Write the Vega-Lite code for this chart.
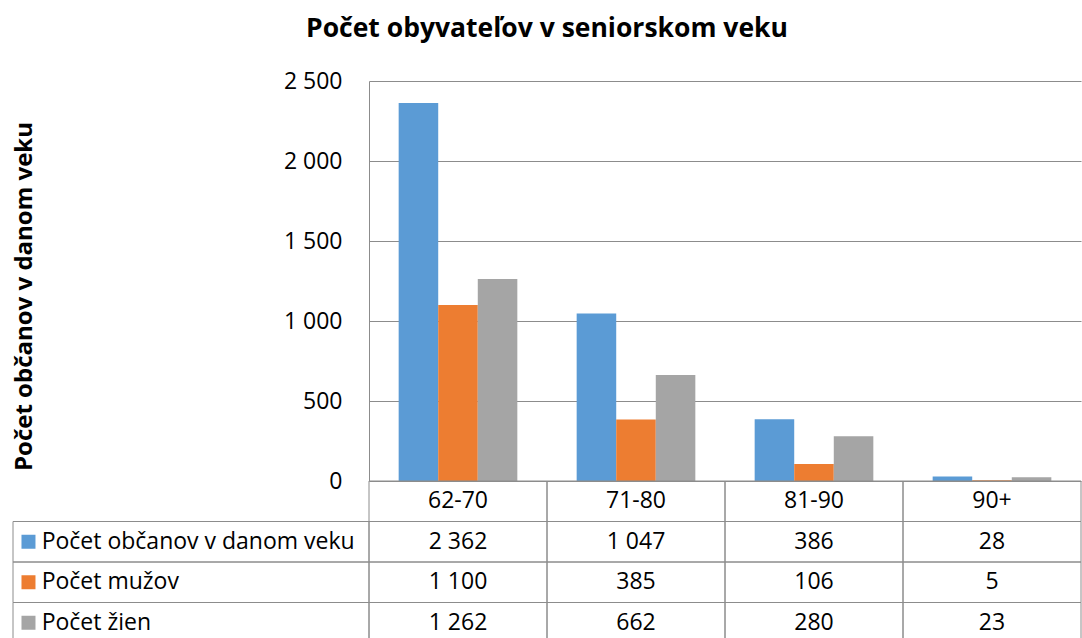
{
  "$schema": "https://vega.github.io/schema/vega-lite/v6.json",
  "padding": {"left": 12, "top": 15, "right": 0, "bottom": 0},
  "background": "white",
  "config": {
    "locale": {"number": {"decimal": ",", "thousands": " ", "grouping": [3], "currency": ["", " €"]}},
    "font": "Open Sans",
    "view": {"stroke": null}
  },
  "title": {"text": "Počet obyvateľov v seniorskom veku", "font": "Open Sans", "fontSize": 26.5, "fontWeight": "bold", "color": "#000000", "anchor": "middle", "offset": 28},
  "datasets": {
    "d": [
      {"age": "62-70", "series": "Počet občanov v danom veku", "value": 2362},
      {"age": "71-80", "series": "Počet občanov v danom veku", "value": 1047},
      {"age": "81-90", "series": "Počet občanov v danom veku", "value": 386},
      {"age": "90+", "series": "Počet občanov v danom veku", "value": 28},
      {"age": "62-70", "series": "Počet mužov", "value": 1100},
      {"age": "71-80", "series": "Počet mužov", "value": 385},
      {"age": "81-90", "series": "Počet mužov", "value": 106},
      {"age": "90+", "series": "Počet mužov", "value": 5},
      {"age": "62-70", "series": "Počet žien", "value": 1262},
      {"age": "71-80", "series": "Počet žien", "value": 662},
      {"age": "81-90", "series": "Počet žien", "value": 280},
      {"age": "90+", "series": "Počet žien", "value": 23}
    ]
  },
  "bounds": "flush",
  "spacing": 0,
  "vconcat": [
    {
      "width": 712,
      "height": 400,
      "data": {"name": "d"},
      "mark": {"type": "bar"},
      "encoding": {
        "x": {"field": "age", "type": "nominal", "sort": ["62-70", "71-80", "81-90", "90+"], "scale": {"paddingInner": 0, "paddingOuter": 0}, "axis": null},
        "xOffset": {"field": "series", "type": "nominal", "sort": ["Počet občanov v danom veku", "Počet mužov", "Počet žien"], "scale": {"paddingInner": 0, "paddingOuter": 0.75}},
        "y": {
          "field": "value", "type": "quantitative",
          "scale": {"domain": [0, 2500], "nice": false},
          "axis": {
            "values": [0, 500, 1000, 1500, 2000, 2500], "format": ",d",
            "labelFontSize": 23, "labelColor": "#000000", "labelPadding": 27, "ticks": false,
            "domainColor": "#8C8C8C", "gridColor": "#8C8C8C", "grid": true,
            "title": "Počet občanov v danom veku", "titleFontSize": 24, "titleFontWeight": "bold", "titleColor": "#000000", "titlePadding": 247, "titleY": 215
          }
        },
        "color": {"field": "series", "type": "nominal", "scale": {"domain": ["Počet občanov v danom veku", "Počet mužov", "Počet žien"], "range": ["#5B9BD5", "#ED7D31", "#A5A5A5"]}, "legend": null}
      }
    },
    {
      "width": 712,
      "height": 162,
      "data": {"name": "d"},
      "encoding": {
        "y": {"field": "series", "type": "nominal", "scale": {"domain": ["hdr", "Počet občanov v danom veku", "Počet mužov", "Počet žien"], "paddingInner": 0, "paddingOuter": 0}, "axis": null}
      },
      "layer": [
        {
          "mark": {"type": "rect", "fill": "transparent", "stroke": "#8C8C8C", "strokeWidth": 1},
          "encoding": {
            "x": {"field": "age", "type": "nominal", "sort": ["62-70", "71-80", "81-90", "90+"], "scale": {"paddingInner": 0, "paddingOuter": 0}, "axis": null}
          }
        },
        {
          "transform": [{"filter": "datum.series === 'Počet mužov'"}],
          "layer": [
            {
              "mark": {"type": "rect", "fill": "transparent", "stroke": "#8C8C8C", "strokeWidth": 1},
              "encoding": {
                "y": {"datum": "hdr", "type": "nominal"}
              }
            },
            {
              "mark": {"type": "text", "fontSize": 23, "color": "#000000"},
              "encoding": {
                "y": {"datum": "hdr", "type": "nominal"},
                "text": {"field": "age", "type": "nominal"}
              }
            }
          ],
          "encoding": {
            "x": {"field": "age", "type": "nominal", "sort": ["62-70", "71-80", "81-90", "90+"], "scale": {"paddingInner": 0, "paddingOuter": 0}, "axis": null}
          }
        },
        {
          "mark": {"type": "text", "fontSize": 23, "color": "#000000"},
          "encoding": {
            "x": {"field": "age", "type": "nominal", "sort": ["62-70", "71-80", "81-90", "90+"], "scale": {"paddingInner": 0, "paddingOuter": 0}, "axis": null},
            "text": {"field": "value", "type": "quantitative", "format": ",d"}
          }
        },
        {
          "transform": [{"filter": "datum.age === '62-70'"}],
          "layer": [
            {
              "mark": {"type": "rect", "fill": "transparent", "stroke": "#8C8C8C", "strokeWidth": 1},
              "encoding": {
                "x": {"datum": -2, "type": "quantitative", "scale": {"type": "linear", "domain": [-2, 0], "range": [-356, 0], "nice": false, "zero": false}, "axis": null},
                "x2": {"datum": 0}
              }
            },
            {
              "mark": {"type": "point", "shape": "square", "filled": true, "size": 196, "opacity": 1},
              "encoding": {
                "x": {"datum": -1.913, "type": "quantitative", "scale": {"type": "linear", "domain": [-2, 0], "range": [-356, 0], "nice": false, "zero": false}, "axis": null},
                "color": {"field": "series", "type": "nominal", "legend": null}
              }
            },
            {
              "mark": {"type": "text", "fontSize": 23, "align": "left", "color": "#000000"},
              "encoding": {
                "x": {"datum": -1.839, "type": "quantitative", "scale": {"type": "linear", "domain": [-2, 0], "range": [-356, 0], "nice": false, "zero": false}, "axis": null},
                "text": {"field": "series", "type": "nominal"}
              }
            }
          ]
        }
      ],
      "resolve": {"scale": {"x": "independent"}}
    }
  ]
}
